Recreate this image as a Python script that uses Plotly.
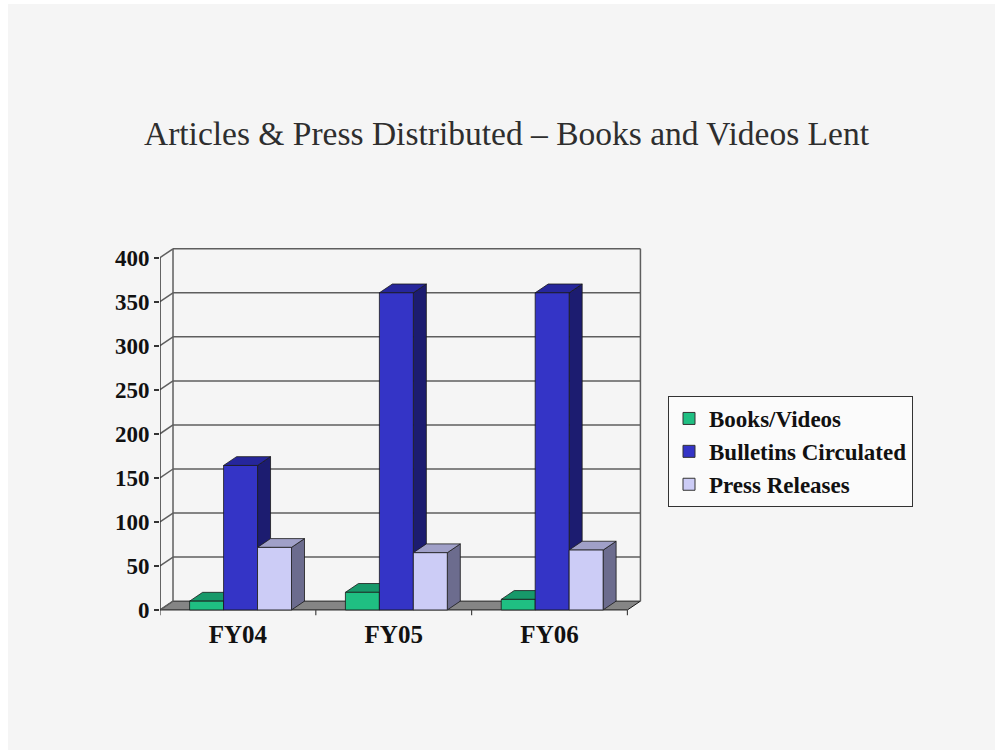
import plotly.graph_objects as go

# ---------------- data ----------------
categories = ["FY04", "FY05", "FY06"]
books_videos = [10, 20, 12]
bulletins_circulated = [164, 360, 360]
press_releases = [71, 65, 68]
y_ticks = [0, 50, 100, 150, 200, 250, 300, 350, 400]
series_names = ["Books/Videos", "Bulletins Circulated", "Press Releases"]

# ---------------- styling ----------------
front_colors = ["#1fbf82", "#3434c6", "#ccccf6"]
side_colors = ["#0f7a52", "#1c1c70", "#6c6c8e"]
top_colors = ["#17996a", "#26269c", "#a0a0c8"]
edge = "#1a1a1a"
grid_col = "#5e5e5e"
DX = 0.0835      # depth offset in category units
DY = 10.0        # depth offset in value units
BAR_W = 0.218
START = -0.31
SERIF = "Liberation Serif"

series_values = [books_videos, bulletins_circulated, press_releases]
n_cat = len(categories)
x_lo, x_hi = -0.5, n_cat - 0.5
y_top = y_ticks[-1]

fig = go.Figure()

def line(xs, ys, color=grid_col, width=1.5):
    fig.add_trace(go.Scatter(x=xs, y=ys, mode="lines", line=dict(color=color, width=width),
                             hoverinfo="skip", showlegend=False))

def poly(xs, ys, fill, lw=0.8):
    fig.add_trace(go.Scatter(x=xs + [xs[0]], y=ys + [ys[0]], mode="lines", fill="toself",
                             fillcolor=fill, line=dict(color=edge, width=lw),
                             hoverinfo="skip", showlegend=False))

# floor
poly([x_lo, x_hi, x_hi + DX, x_lo + DX], [0, 0, DY, DY], "#858585", lw=1)

# back wall grid lines and left wall connectors
for v in y_ticks[1:]:
    line([x_lo + DX, x_hi + DX], [v + DY, v + DY])
for v in y_ticks:
    line([x_lo, x_lo + DX], [v, v + DY])
line([x_lo + DX, x_lo + DX], [DY, y_top + DY])
line([x_hi + DX, x_hi + DX], [DY, y_top + DY])
line([x_lo, x_lo], [0, y_top], color="#333333", width=1.5)

# category separator ticks below the floor
for b in range(n_cat + 1):
    line([x_lo + b, x_lo + b], [0, -6], color="#444444", width=1.2)

# side and top faces
for k, vals in enumerate(series_values):
    for i, v in enumerate(vals):
        xl = i + START + k * BAR_W
        xr = xl + BAR_W
        poly([xr, xr, xr + DX, xr + DX], [0, v, v + DY, DY], side_colors[k])
        poly([xl, xr, xr + DX, xl + DX], [v, v, v + DY, v + DY], top_colors[k])

# front faces
for k, vals in enumerate(series_values):
    for i, v in enumerate(vals):
        xl = i + START + k * BAR_W
        xr = xl + BAR_W
        poly([xl, xr, xr, xl], [0, 0, v, v], front_colors[k])

# legend entries
for k, name in enumerate(series_names):
    fig.add_trace(go.Scatter(x=[None], y=[None], mode="markers", name=name,
                             marker=dict(symbol="square", size=12, color=front_colors[k],
                                         line=dict(color="#333333", width=1))))

# page background (white strip on left/top)
PL, PR, PT, PB = 160, 352, 247, 133
pw = 995 - PL - PR
ph = 750 - PT - PB
fig.add_shape(type="rect", xref="paper", yref="paper", layer="below",
              x0=(8 - PL) / pw, x1=(995 - PL) / pw,
              y0=(750 - PB - 750) / ph, y1=(750 - PB - 4) / ph,
              fillcolor="#f5f5f5", line=dict(width=0))

fig.update_layout(
    width=995, height=750,
    margin=dict(l=PL, r=PR, t=PT, b=PB),
    paper_bgcolor="#ffffff",
    plot_bgcolor="rgba(0,0,0,0)",
    title=dict(text="Articles &amp; Press Distributed – Books and Videos Lent",
               font=dict(family=SERIF, size=33.5, color="#2e2e2e"),
               x=0.509, xref="container", xanchor="center",
               y=1 - 133 / 750, yref="container", yanchor="middle"),
    xaxis=dict(range=[-0.5, 2.6], tickmode="array", tickvals=list(range(n_cat)),
               ticktext=categories, showgrid=False, zeroline=False, showline=False,
               ticks="", tickfont=dict(family=SERIF, size=25, color="#111111", weight="bold")),
    yaxis=dict(range=[-8, 412], tickmode="array", tickvals=y_ticks,
               showgrid=False, zeroline=False, showline=False,
               ticks="outside", ticklen=5, tickwidth=1.5, tickcolor="#333333",
               tickfont=dict(family=SERIF, size=23, color="#111111", weight="bold")),
    legend=dict(x=(668 - PL) / pw, y=(750 - PB - 396) / ph, xanchor="left", yanchor="top",
                bgcolor="#fbfbfb", bordercolor="#333333", borderwidth=1,
                font=dict(family=SERIF, size=23, color="#111111", weight="bold")),
    showlegend=True,
)

fig.write_html("out.html")
